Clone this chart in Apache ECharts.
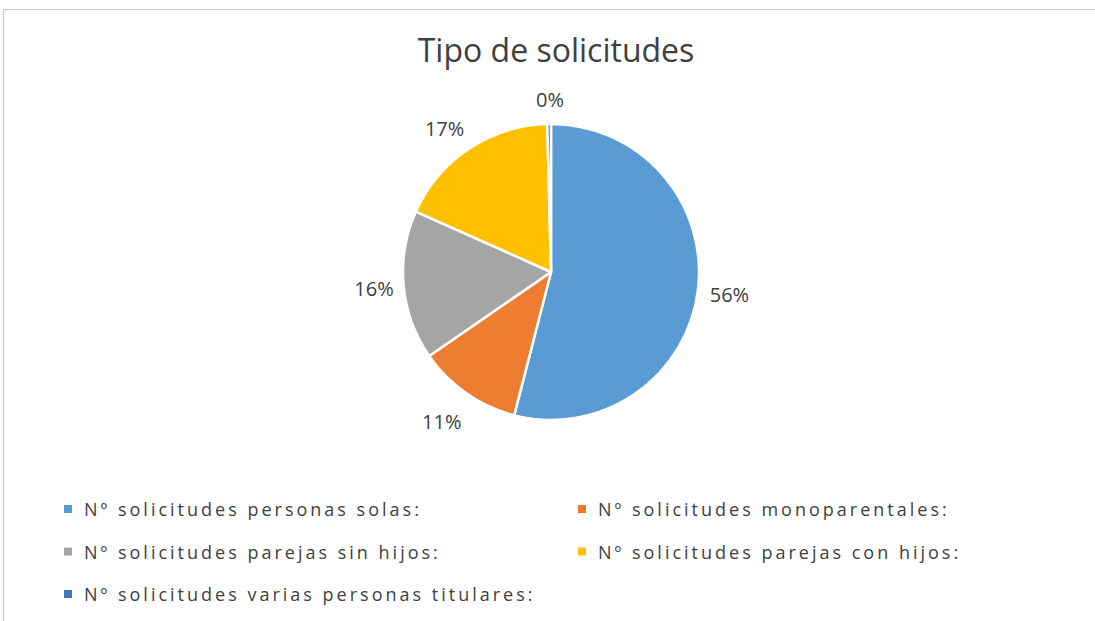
<!DOCTYPE html>
<html>
<head>
<meta charset="utf-8">
<script src="https://cdn.jsdelivr.net/npm/echarts@6/dist/echarts.min.js"></script>
<style>
  html, body { margin: 0; padding: 0; background: #fff; }
  #chart { width: 1095px; height: 621px; }
  /* legend labels in the original are letter-spaced */
  #chart text[fill="#404041"] { letter-spacing: 3px; }
</style>
</head>
<body>
<div id="chart"></div>
<script>
const categories = [
  'Nº solicitudes personas solas:',
  'Nº solicitudes monoparentales:',
  'Nº solicitudes parejas sin hijos:',
  'Nº solicitudes parejas con hijos:',
  'Nº solicitudes varias personas titulares:'
];
// slice sizes as drawn in the picture
const values = [54, 11.4, 16.3, 17.9, 0.4];
// percentage labels as printed in the picture
const pctLabels = ['56%', '11%', '16%', '17%', '0%'];
const colors = ['#5B9BD5', '#ED7D31', '#A5A5A5', '#FFC000', '#4472C4'];

const legendLeft = [categories[0], categories[2], categories[4]];
const legendRight = [categories[1], categories[3]];

const pieCenter = [551, 272];
const pieRadius = 148;

const myChart = echarts.init(document.getElementById('chart'), null, { renderer: 'svg' });

const legendText = { color: '#404041', fontSize: 18, fontFamily: 'Open Sans', padding: [0, 0, 0, 6] };

myChart.setOption({
  animation: false,
  color: colors,
  title: {
    text: 'Tipo de solicitudes',
    left: 551,
    textAlign: 'center',
    top: 28,
    textStyle: { color: '#404040', fontSize: 32, fontWeight: 'normal', fontFamily: 'Open Sans' }
  },
  legend: [
    {
      data: legendLeft, orient: 'vertical', left: 62, top: 500, padding: 0,
      itemWidth: 10, itemHeight: 10, itemGap: 24.5, icon: 'rect',
      textStyle: legendText
    },
    {
      data: legendRight, orient: 'vertical', left: 576, top: 500, padding: 0,
      itemWidth: 10, itemHeight: 10, itemGap: 24.5, icon: 'rect',
      textStyle: legendText
    }
  ],
  graphic: [
    { type: 'line', shape: { x1: 3, y1: 9.5, x2: 1095, y2: 9.5 }, style: { stroke: '#c8c8c8', lineWidth: 1 } },
    { type: 'line', shape: { x1: 3.5, y1: 9, x2: 3.5, y2: 621 }, style: { stroke: '#c8c8c8', lineWidth: 1 } }
  ],
  series: [{
    type: 'pie',
    center: pieCenter,
    radius: pieRadius,
    startAngle: 90,
    clockwise: true,
    avoidLabelOverlap: false,
    data: categories.map((name, i) => ({ name: name, value: values[i] })),
    itemStyle: { borderColor: '#fff', borderWidth: 2.5 },
    label: {
      show: true,
      position: 'outside',
      formatter: (p) => pctLabels[p.dataIndex],
      color: '#404040',
      fontSize: 20,
      fontFamily: 'Open Sans',
      distanceToLabelLine: 2
    },
    labelLine: { show: false, length: 12, length2: 0 },
    labelLayout: (p) => {
      // nudge labels like the spreadsheet's outside-end labels
      const r = p.labelRect;
      const dx = r.x + r.width / 2 - pieCenter[0];
      const dy = r.y + r.height / 2 - pieCenter[1];
      const len = Math.sqrt(dx * dx + dy * dy) || 1;
      const ux = dx / len, uy = dy / len;
      const out = { dy: uy * (uy > 0 ? 24 : 13), dx: ux < 0 ? 4 : -2 };
      // label sitting right on top of the pie: centre it over the slice
      if (Math.abs(ux) < 0.3) out.dx = r.width / 2 + 3;
      return out;
    },
    emphasis: { disabled: true }
  }]
});
</script>
</body>
</html>
